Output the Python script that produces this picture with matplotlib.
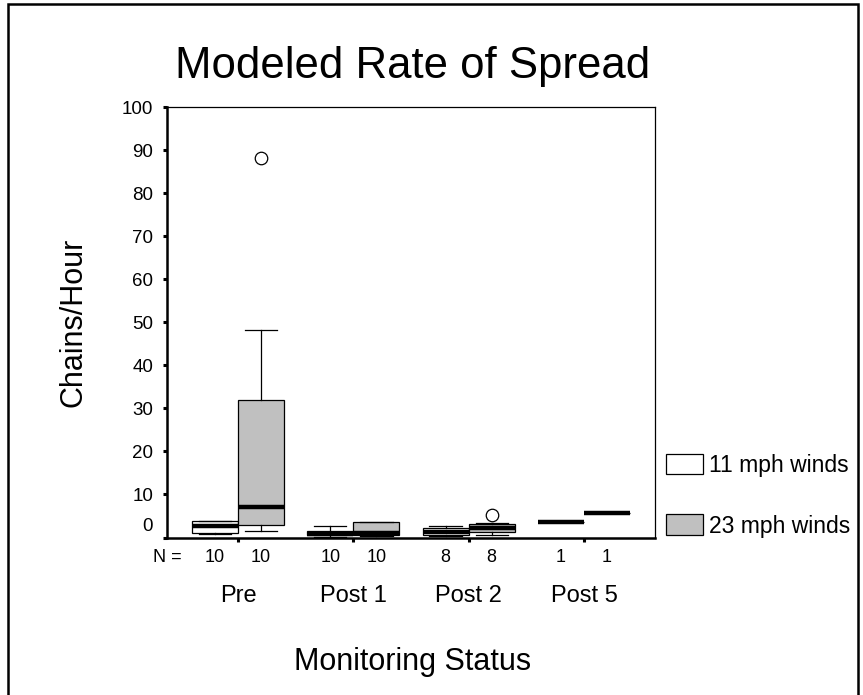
import matplotlib
matplotlib.use('Agg')
from matplotlib import pyplot as plt
from matplotlib.patches import Patch, Rectangle
from matplotlib.transforms import ScaledTranslation, blended_transform_factory

plt.rcParams['font.family'] = ['Liberation Sans', 'DejaVu Sans']

# data (chains/hour)
groups = ['Pre', 'Post 1', 'Post 2', 'Post 5']
series = ['11 mph winds', '23 mph winds']
colors = ['white', '#c0c0c0']

# one value per group, per series
q1_11 = [1.1, 0.5, 0.65, 3.6]
med_11 = [2.6, 0.9, 1.35, 3.6]
q3_11 = [3.8, 1.6, 2.3, 3.6]
lo_11 = [0.8, 0.2, 0.3, 3.6]
hi_11 = [3.9, 2.7, 2.7, 3.6]
out_11 = [[], [], [], []]
n_11 = [10, 10, 8, 1]

q1_23 = [2.8, 0.5, 1.2, 5.6]
med_23 = [7.2, 1.0, 2.2, 5.6]
q3_23 = [32.0, 3.6, 3.1, 5.6]
lo_23 = [1.5, 0.4, 0.65, 5.6]
hi_23 = [48.1, 3.6, 3.3, 5.6]
out_23 = [[88.2], [], [5.2], []]
n_23 = [10, 10, 8, 1]

fig = plt.figure(figsize=(8.63, 6.95), dpi=100)
ax = fig.add_axes([0.1935, 0.2266, 0.5655, 0.6194])

offsets = [-0.2, 0.2]
all_stats = [(q1_11, med_11, q3_11, lo_11, hi_11, out_11),
             (q1_23, med_23, q3_23, lo_23, hi_23, out_23)]
for k, (q1, med, q3, lo, hi, out) in enumerate(all_stats):
    stats = []
    for i in range(len(groups)):
        stats.append(dict(q1=q1[i], med=med[i], q3=q3[i],
                          whislo=lo[i], whishi=hi[i], fliers=out[i]))
    pos = [i + offsets[k] for i in range(len(groups))]
    ax.bxp(stats, positions=pos, widths=0.4, capwidths=0.28,
           patch_artist=True, manage_ticks=False,
           boxprops=dict(facecolor=colors[k], edgecolor='black', linewidth=0.9),
           medianprops=dict(color='black', linewidth=3.2),
           whiskerprops=dict(color='black', linewidth=0.9),
           capprops=dict(color='black', linewidth=0.9),
           flierprops=dict(marker='o', markersize=9, markerfacecolor='white',
                           markeredgecolor='black', markeredgewidth=0.9))

ax.set_xlim(-0.616, 3.616)
ax.set_ylim(0, 100)
ax.set_yticks(range(0, 101, 10))
ax.set_xticks(range(len(groups)))
ax.set_xticklabels([])
ax.tick_params(axis='both', direction='out', length=3, width=2.2)
ax.tick_params(axis='y', pad=7, labelsize=13.5)
for side in ['left', 'bottom']:
    ax.spines[side].set_linewidth(1.8)
for side in ['top', 'right']:
    ax.spines[side].set_linewidth(0.9)

# the "0" label sits a bit higher in the original
for lab in ax.get_yticklabels():
    if lab.get_text() == '0':
        lab.set_transform(lab.get_transform() + ScaledTranslation(0, 0.13, fig.dpi_scale_trans))

trans = blended_transform_factory(ax.transData, ax.transAxes)
ax.text(-0.486, -0.047, 'N =', transform=trans, ha='right', va='center', fontsize=13)
for i in range(len(groups)):
    ax.text(i - 0.2, -0.047, str(n_11[i]), transform=trans, ha='center', va='center', fontsize=13)
    ax.text(i + 0.2, -0.047, str(n_23[i]), transform=trans, ha='center', va='center', fontsize=13)
    ax.text(i, -0.136, groups[i], transform=trans, ha='center', va='center', fontsize=17)

ax.set_ylabel('Chains/Hour', fontsize=22)
ax.yaxis.set_label_coords(-0.16, 0.5)
fig.text(0.4786, 0.0475, 'Monitoring Status', ha='center', va='center', fontsize=22)
fig.text(0.4786, 0.904, 'Modeled Rate of Spread', ha='center', va='center', fontsize=31.5)

handles = [Patch(facecolor=colors[k], edgecolor='black', linewidth=0.9) for k in range(2)]
fig.legend(handles, series, loc='center left', bbox_to_anchor=(0.772, 0.287),
           frameon=False, fontsize=16.5, handlelength=1.6, handleheight=1.0,
           handletextpad=0.25, labelspacing=1.65, borderpad=0, borderaxespad=0)

# outer frame
fig.add_artist(Rectangle((8 / 863, -0.01), 850 / 863, 1 - 4 / 695 + 0.01,
                         transform=fig.transFigure, fill=False,
                         edgecolor='black', linewidth=1.8))

fig.savefig('out.png', dpi=100)
